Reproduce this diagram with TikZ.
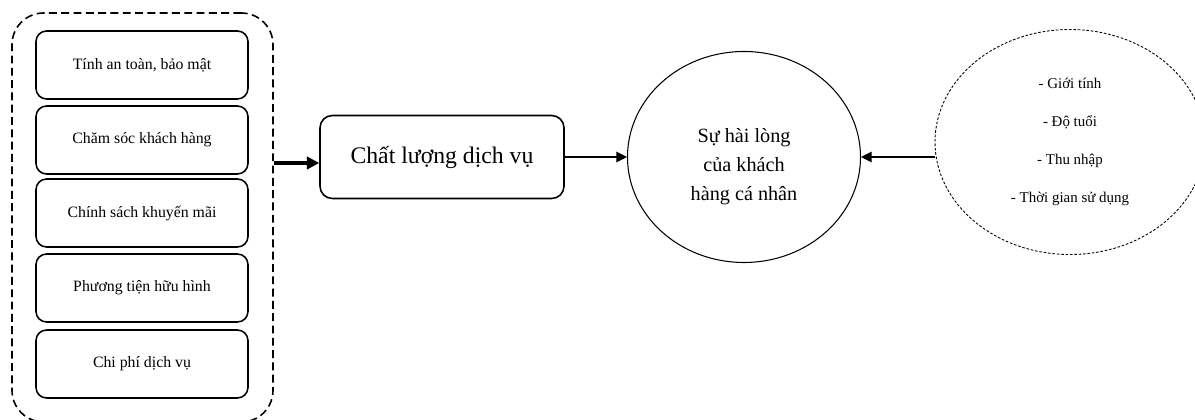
\documentclass[tikz,border=0pt]{standalone}
\usepackage{fontspec}
\setmainfont{Liberation Serif}
\usetikzlibrary{arrows.meta, positioning, shapes.geometric}

\begin{document}
\begin{tikzpicture}[
    factor/.style={draw, rounded corners=6pt, line width=0.9pt, minimum width=4.24cm, minimum height=1.36cm, font=\fontsize{9}{11}\selectfont, anchor=center},
    group/.style={draw, dash pattern=on 4.5pt off 2.5pt, line width=0.9pt, rounded corners=18pt, minimum width=5.22cm, minimum height=8.18cm},
    quality/.style={draw, rounded corners=7pt, line width=0.9pt, minimum width=4.88cm, minimum height=1.66cm, font=\fontsize{13.5}{15}\selectfont},
    outcome/.style={draw, ellipse, line width=0.6pt, minimum width=4.66cm, minimum height=4.22cm},
    control/.style={draw, ellipse, dash pattern=on 1.5pt off 1pt, line width=0.5pt, minimum width=5.4cm, minimum height=4.5cm, align=center, font=\fontsize{8.5}{21.5}\selectfont},
    link/.style={-{Triangle[length=6pt, width=6pt]}, line width=0.6pt}
]
\useasboundingbox (0, 0) rectangle (23.9, 8.4);

% Factors of service quality
\node[group] (grp) at (2.85, 4.05) {};
\node[factor] (f1) at (2.84, 7.10) {Tính an toàn, bảo mật};
\node[factor] (f2) at (2.84, 5.60) {Chăm sóc khách hàng};
\node[factor] (f3) at (2.84, 4.14) {Chính sách khuyến mãi};
\node[factor] (f4) at (2.84, 2.64) {Phương tiện hữu hình};
\node[factor] (f5) at (2.84, 1.12) {Chi phí dịch vụ};

\node[quality] (cl) at (8.84, 5.26) {Chất lượng dịch vụ};
\node[outcome] (sat) at (14.88, 5.26) {};
\node[align=center, font=\fontsize{11.5}{16.5}\selectfont] (satlbl) at ([yshift=-0.2cm]sat.center) {Sự hài lòng\\của khách\\hàng cá nhân};
\node[control] (dem) at (21.40, 5.56) {- Giới tính\\- Độ tuổi\\- Thu nhập\\- Thời gian sử dụng};

% Arrows
\coordinate (in) at ([yshift=-0.12cm]cl.west);
\draw[-{Triangle[length=7pt, width=7pt]}, line width=1.8pt] (grp.east |- in) -- (in);
\draw[link] (cl.east) -- (sat.west);
\draw[link] (dem.west |- sat.east) -- (sat.east);
\end{tikzpicture}
\end{document}
